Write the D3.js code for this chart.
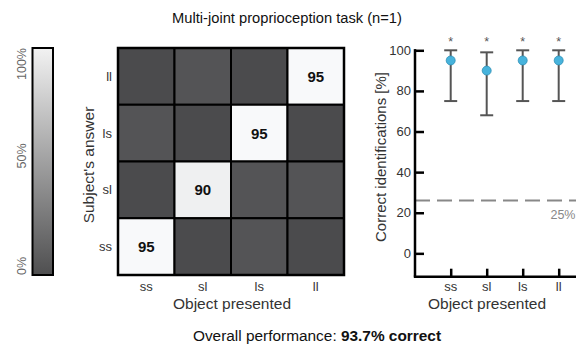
<!DOCTYPE html>
<html><head><meta charset="utf-8">
<script src="https://cdn.jsdelivr.net/npm/d3@7"></script>
<style>body{margin:0;background:#fff}svg{display:block;font-family:"Liberation Sans",Arial,sans-serif}</style>
</head><body>
<svg id="c" width="576" height="347"></svg>
<script>
// ---- data ----
const categories = ["ss", "sl", "ls", "ll"];            // object presented (columns)
const answers = ["ll", "ls", "sl", "ss"];                // subject's answer (rows, top->bottom)
// confusion matrix: rows = answers (top->bottom), columns = categories
const matrixLL = [0, 5, 0, 95];
const matrixLS = [5, 0, 95, 0];
const matrixSL = [0, 90, 5, 5];
const matrixSS = [95, 0, 5, 0];
const correctPct = [95, 90, 95, 95];
const ciLow = [75, 68, 75, 75];
const ciHigh = [100, 99, 100, 100];
const significant = [true, true, true, true];
const chanceLevel = 26;
const chanceLabel = "25%";
const yTicks = [0, 20, 40, 60, 80, 100];
const colorbarLabels = ["0%", "50%", "100%"];
const overall = "93.7% correct";

const svg = d3.select("#c");
const matrix = [matrixLL, matrixLS, matrixSL, matrixSS];

// title
svg.append("text").attr("x", 287).attr("y", 23).attr("text-anchor", "middle")
  .attr("font-size", 14.7).attr("fill", "#111").text("Multi-joint proprioception task (n=1)");

// ---- colorbar ----
const cLo = "#4b4b4d", cHi = "#f8f9fa";
const defs = svg.append("defs");
const grad = defs.append("linearGradient").attr("id", "cb").attr("x1", 0).attr("y1", 1).attr("x2", 0).attr("y2", 0);
grad.append("stop").attr("offset", 0).attr("stop-color", "#4f4f50");
grad.append("stop").attr("offset", 1).attr("stop-color", "#f2f2f2");
const cbY = d3.scaleLinear().domain([0, 100]).range([275, 48]);
svg.append("rect").attr("x", 32.5).attr("y", cbY(100)).attr("width", 20.5).attr("height", cbY(0) - cbY(100))
  .attr("fill", "url(#cb)").attr("stroke", "#000").attr("stroke-width", 2);
const cbVals = [0, 50, 100];
svg.selectAll(".cbl").data(colorbarLabels).join("text")
  .attr("transform", (d, i) => `translate(26,${i === 1 ? 156 : cbY(cbVals[i])}) rotate(-90)`)
  .attr("text-anchor", (d, i) => i === 0 ? "start" : i === 1 ? "middle" : "end")
  .attr("font-size", 12.5).attr("fill", "#666").text(d => d);

// ---- heatmap ----
const hx = d3.scaleBand().domain(categories).range([118, 344]);
const hy = d3.scaleBand().domain(answers).range([48, 275]);
const maxV = d3.max(matrix.flat());
const col = d3.scaleLinear().domain([0, maxV]).range([cLo, cHi]);
const cells = [];
answers.forEach((a, r) => categories.forEach((c, j) => cells.push({ a, c, v: matrix[r][j] })));
svg.selectAll(".cell").data(cells).join("rect")
  .attr("x", d => hx(d.c)).attr("y", d => hy(d.a))
  .attr("width", hx.bandwidth()).attr("height", hy.bandwidth())
  .attr("fill", d => col(d.v)).attr("stroke", "#000").attr("stroke-width", 2);
svg.append("rect").attr("x", 118).attr("y", 48).attr("width", 226).attr("height", 227)
  .attr("fill", "none").attr("stroke", "#000").attr("stroke-width", 2.5);
svg.selectAll(".cv").data(cells.filter(d => d.v >= 50)).join("text")
  .attr("x", d => hx(d.c) + hx.bandwidth() / 2).attr("y", d => hy(d.a) + hy.bandwidth() / 2 + 5.5)
  .attr("text-anchor", "middle").attr("font-size", 15).attr("font-weight", "bold").attr("fill", "#111")
  .text(d => d.v);
svg.selectAll(".hxl").data(categories).join("text")
  .attr("x", d => hx(d) + hx.bandwidth() / 2).attr("y", 291).attr("text-anchor", "middle")
  .attr("font-size", 13).attr("fill", "#333").text(d => d);
svg.selectAll(".hyl").data(answers).join("text")
  .attr("x", 112).attr("y", d => hy(d) + hy.bandwidth() / 2 + 4.5).attr("text-anchor", "end")
  .attr("font-size", 13).attr("fill", "#333").text(d => d);
svg.append("text").attr("x", 232).attr("y", 309).attr("text-anchor", "middle")
  .attr("font-size", 15.5).attr("fill", "#333").text("Object presented");
svg.append("text").attr("transform", "translate(94,165) rotate(-90)").attr("text-anchor", "middle")
  .attr("font-size", 15.5).attr("fill", "#333").text("Subject's answer");

// ---- right panel ----
const ry = d3.scaleLinear().domain([-11.5, 100]).range([276.7, 50.3]);
const rx = d3.scalePoint().domain(categories).range([450.7, 558.7]);
const axX = 415;
// chance line
svg.append("line").attr("x1", axX).attr("x2", 576).attr("y1", ry(chanceLevel)).attr("y2", ry(chanceLevel))
  .attr("stroke", "#888").attr("stroke-width", 2).attr("stroke-dasharray", "15,7");
svg.append("text").attr("x", 575.5).attr("y", ry(chanceLevel) + 18).attr("text-anchor", "end")
  .attr("font-size", 12.5).attr("fill", "#888").text(chanceLabel);
// axes
const yAxis = d3.axisRight(ry).tickValues(yTicks).tickSize(9).tickFormat("");
const gY = svg.append("g").attr("transform", `translate(${axX},0)`).call(yAxis);
gY.select(".domain").remove();
gY.selectAll("line").attr("stroke", "#000").attr("stroke-width", 2.5);
svg.selectAll(".ytl").data(yTicks).join("text")
  .attr("x", 411).attr("y", d => ry(d) + 4.5).attr("text-anchor", "end")
  .attr("font-size", 13).attr("fill", "#333").text(d => d);
svg.append("line").attr("x1", axX).attr("x2", axX).attr("y1", ry(100) - 1.2).attr("y2", ry(-11.5))
  .attr("stroke", "#000").attr("stroke-width", 2.5);
svg.append("line").attr("x1", axX - 1.2).attr("x2", 576).attr("y1", ry(-11.5)).attr("y2", ry(-11.5))
  .attr("stroke", "#000").attr("stroke-width", 2.5);
const xAxis = d3.axisTop(rx).tickSize(8).tickFormat("");
const gX = svg.append("g").attr("transform", `translate(0,${ry(-11.5)})`).call(xAxis);
gX.select(".domain").remove();
gX.selectAll("line").attr("stroke", "#000").attr("stroke-width", 2.5);
svg.selectAll(".xtl").data(categories).join("text")
  .attr("x", d => rx(d)).attr("y", 291).attr("text-anchor", "middle")
  .attr("font-size", 13).attr("fill", "#333").text(d => d);
svg.append("text").attr("x", 487).attr("y", 309).attr("text-anchor", "middle")
  .attr("font-size", 15.5).attr("fill", "#333").text("Object presented");
svg.append("text").attr("transform", "translate(386,157) rotate(-90)").attr("text-anchor", "middle")
  .attr("font-size", 15).attr("fill", "#333").text("Correct identifications [%]");
// error bars
const eb = categories.map((c, i) => ({ c, v: correctPct[i], lo: ciLow[i], hi: ciHigh[i], s: significant[i] }));
const g = svg.append("g");
g.selectAll(".ev").data(eb).join("line")
  .attr("x1", d => rx(d.c)).attr("x2", d => rx(d.c)).attr("y1", d => ry(d.lo)).attr("y2", d => ry(d.hi))
  .attr("stroke", "#555").attr("stroke-width", 2);
["lo", "hi"].forEach(k => g.selectAll(".cap" + k).data(eb).join("line")
  .attr("x1", d => rx(d.c) - 6.5).attr("x2", d => rx(d.c) + 6.5).attr("y1", d => ry(d[k])).attr("y2", d => ry(d[k]))
  .attr("stroke", "#555").attr("stroke-width", 2));
g.selectAll(".pt").data(eb).join("circle")
  .attr("cx", d => rx(d.c)).attr("cy", d => ry(d.v)).attr("r", 4.5)
  .attr("fill", "#47b3dc").attr("stroke", "#2f8fb5").attr("stroke-width", 0.8);
g.selectAll(".st").data(eb.filter(d => d.s)).join("text")
  .attr("x", d => rx(d.c)).attr("y", 46).attr("text-anchor", "middle")
  .attr("font-size", 12.5).attr("fill", "#555").text("*");

// bottom text
const bt = svg.append("text").attr("x", 317).attr("y", 341).attr("text-anchor", "middle")
  .attr("font-size", 15.4).attr("fill", "#111");
bt.append("tspan").text("Overall performance: ");
bt.append("tspan").attr("font-weight", "bold").text(overall);
</script>
</body></html>
